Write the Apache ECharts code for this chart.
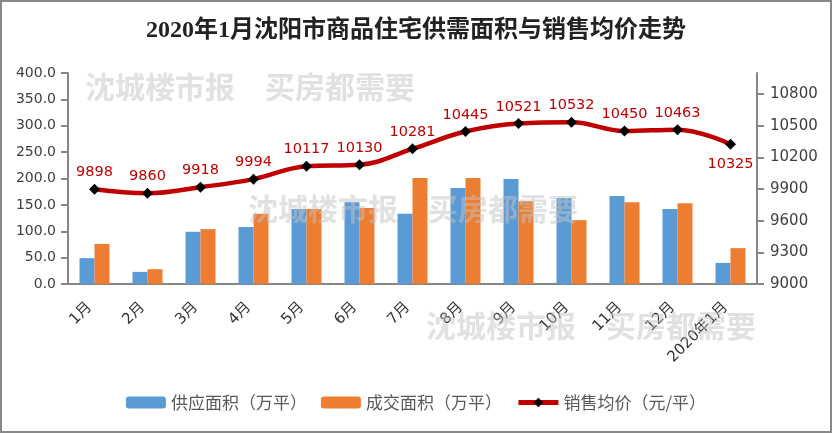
<!DOCTYPE html>
<html><head><meta charset="utf-8">
<script src="https://cdn.jsdelivr.net/npm/echarts@6/dist/echarts.min.js"></script>
<style>
html,body{margin:0;padding:0;background:#fff;}
#c{width:828px;height:429px;border:2px solid #888;}
</style></head>
<body><div id="c"></div>
<script>
const categories = ['1月','2月','3月','4月','5月','6月','7月','8月','9月','10月','11月','12月','2020年1月'];
const supplyArea = [49, 23, 99, 108, 142, 155, 133, 182, 199, 163, 167, 142, 40];
const dealArea = [76, 28, 104, 133, 142, 144, 201, 201, 157, 121, 155, 153, 68];
const avgPrice = [9898, 9860, 9918, 9994, 10117, 10130, 10281, 10445, 10521, 10532, 10450, 10463, 10325];

const chart = echarts.init(document.getElementById('c'));
const font = 'DejaVu Sans, Noto Sans CJK SC, sans-serif';
const axisGray = '#868686';
const wm = {fill:'rgba(195,195,195,0.5)', font:'bold 30px "Noto Sans CJK SC"'};
chart.setOption({
  animation:false,
  title:{text:'2020年1月沈阳市商品住宅供需面积与销售均价走势', left:'center', top:12,
    textStyle:{fontFamily:'Liberation Serif, Noto Sans CJK SC', fontSize:24, fontWeight:'bold', color:'#222'}},
  grid:{left:66, right:73, top:71, bottom:147},
  legend:{bottom:15, left:'center', itemWidth:40, itemHeight:12, itemGap:14,
    textStyle:{fontFamily:'Noto Sans CJK SC', fontSize:17, color:'#595959'},
    data:['供应面积（万平）','成交面积（万平）',
      {name:'销售均价（元/平）', lineStyle:{width:5, color:'#C00000'}}]},
  xAxis:{type:'category', data:categories,
    axisLine:{lineStyle:{color:axisGray, width:2}},
    axisTick:{lineStyle:{color:axisGray, width:2}, length:7},
    axisLabel:{rotate:45, fontFamily:font, fontSize:15, color:'#333', margin:16, interval:0, padding:[0,7,0,0]}},
  yAxis:[
    {type:'value', min:0, max:400, interval:50,
     axisLine:{show:true, lineStyle:{color:axisGray, width:2}},
     axisTick:{show:true, lineStyle:{color:axisGray, width:2}, length:7},
     splitLine:{show:false},
     axisLabel:{formatter:v=>v.toFixed(1), fontFamily:font, fontSize:14, color:'#404040', margin:12}},
    {type:'value', min:9000, max:11000, interval:300,
     axisLine:{show:true, lineStyle:{color:axisGray, width:2}},
     axisTick:{show:true, lineStyle:{color:axisGray, width:2}, length:7},
     splitLine:{show:false},
     axisLabel:{showMaxLabel:false, formatter:v=>String(v), fontFamily:font, fontSize:15, color:'#404040', margin:13}}
  ],
  series:[
    {name:'供应面积（万平）', type:'bar', data:supplyArea, barWidth:15, barGap:'0%', itemStyle:{color:'#5B9BD5'}},
    {name:'成交面积（万平）', type:'bar', data:dealArea, barWidth:15, itemStyle:{color:'#ED7D31'}},
    {name:'销售均价（元/平）', type:'line', yAxisIndex:1,
     data:avgPrice.map((v,i)=>i===avgPrice.length-1?{value:v,label:{position:'bottom',distance:7}}:v),
     smooth:0.4, symbol:'diamond', symbolSize:11,
     lineStyle:{color:'#C00000', width:4.5}, itemStyle:{color:'#000'},
     label:{show:true, position:'top', distance:4, color:'#C00000', fontFamily:font, fontSize:14.5}}
  ],
  graphic:[
    {type:'text', left:83, top:70, z:100, style:{text:'沈城楼市报　买房都需要', ...wm}},
    {type:'text', left:246, top:192, z:100, style:{text:'沈城楼市报　买房都需要', ...wm}},
    {type:'text', left:424, top:309, z:100, style:{text:'沈城楼市报　买房都需要', ...wm}}
  ]
});
</script></body></html>
